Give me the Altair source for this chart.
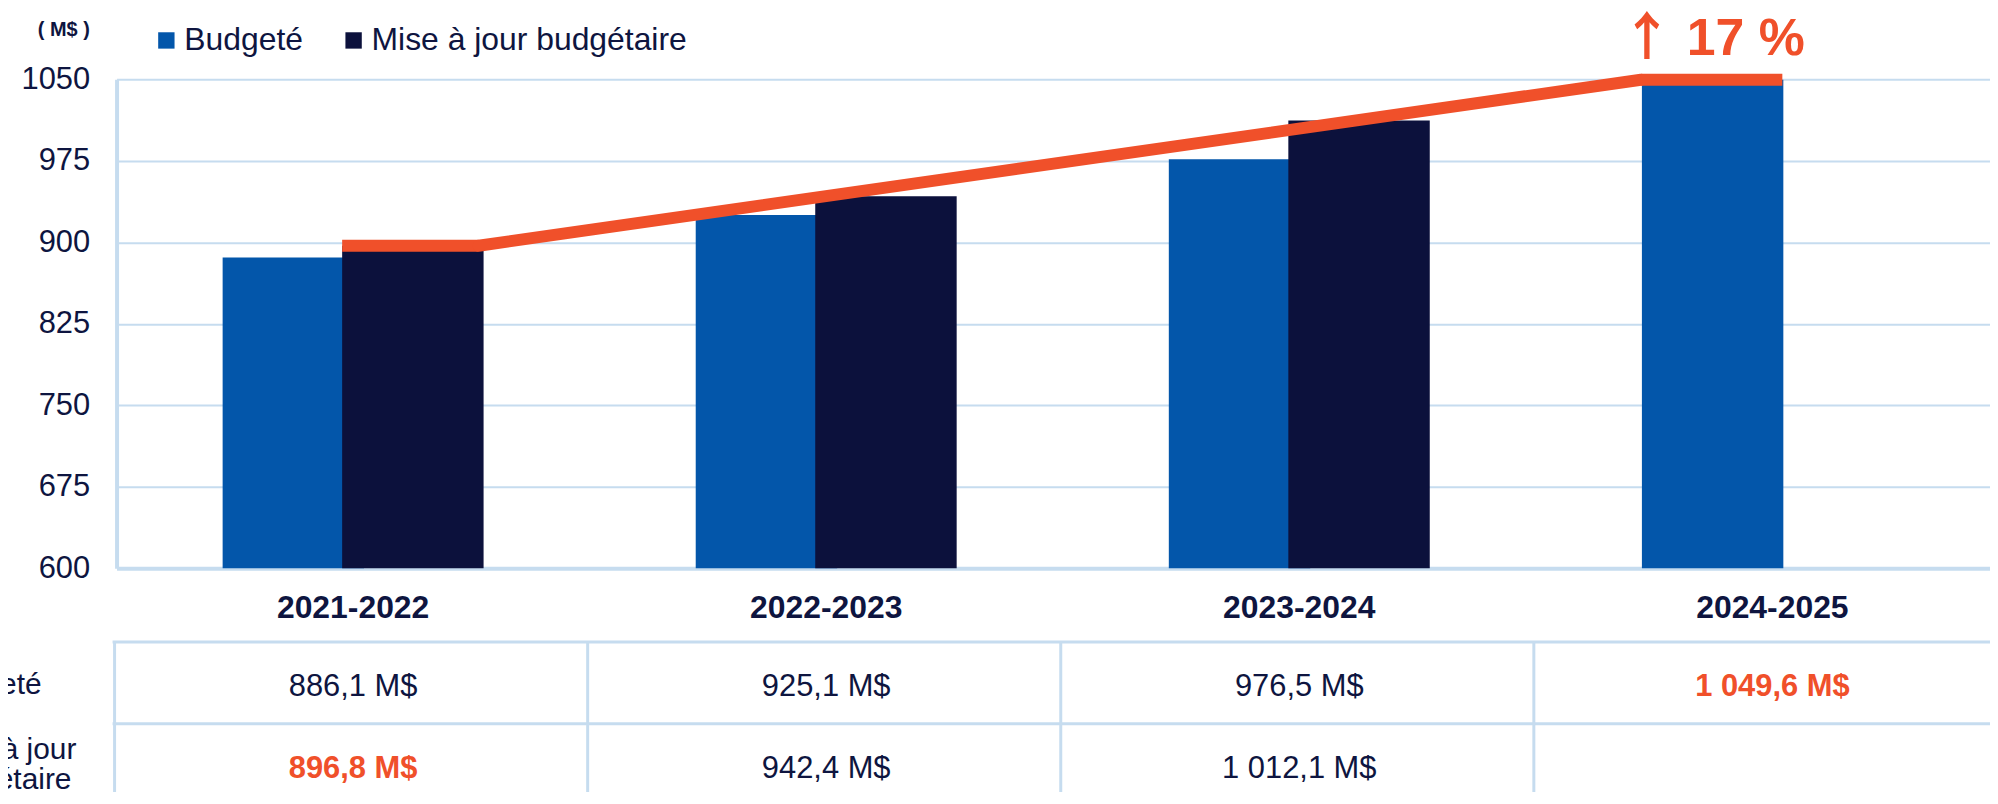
import altair as alt
import pandas as pd

# ---------------- data ----------------
categories = ["2021-2022", "2022-2023", "2023-2024", "2024-2025"]
budgete = [886.1, 925.1, 976.5, 1049.6]
mise_a_jour = [896.8, 942.4, 1012.1, None]
series_names = ["Budgeté", "Mise à jour budgétaire"]
row_labels = ["Budgeté", "Mise à jour", "budgétaire"]
y_ticks = [600, 675, 750, 825, 900, 975, 1050]
unit_label = "( M$ )"

# ---------------- style ----------------
NAVY = "#0E1540"
BLUE = "#0356AA"
DARK = "#0C113C"
ORANGE = "#F0502A"
GRID = "#C6DCEF"
FONT = "Liberation Sans"

W = 1900          # plot width (right part clipped by the page edge)
H = 491           # plot height
BAR_W = 142


def fr(v):
    return f"{v:,.1f}".replace(",", " ").replace(".", ",") + " M$"


change = round((budgete[-1] / mise_a_jour[0] - 1) * 100)
change_label = f"{change} %"

bud_df = pd.DataFrame({"cat": categories, "value": budgete, "series": series_names[0]})
maj_df = pd.DataFrame({"cat": categories, "value": mise_a_jour, "series": series_names[1]}).dropna()

rows = []
for i, c in enumerate(categories):
    rows.append({"cat": c, "row": 0, "txt": fr(budgete[i]), "hl": i == len(categories) - 1})
    if mise_a_jour[i] is not None:
        rows.append({"cat": c, "row": 1, "txt": fr(mise_a_jour[i]), "hl": i == 0})
table_df = pd.DataFrame(rows)
cat_df = pd.DataFrame({"cat": categories})

xscale = alt.Scale(domain=categories, paddingInner=0, paddingOuter=0)
yscale = alt.Scale(domain=[600, 1050], nice=False, zero=False)
cscale = alt.Scale(domain=series_names, range=[BLUE, DARK])

legend = alt.Legend(
    orient="none", legendX=34, legendY=-55, direction="horizontal", title=None,
    symbolType="square", symbolSize=270, symbolStrokeWidth=0, symbolOpacity=1,
    labelFont=FONT, labelFontSize=32, labelColor=NAVY, labelOffset=2,
    columnPadding=34, labelLimit=600,
)

X = alt.X("cat:N", scale=xscale, sort=categories,
          axis=alt.Axis(labels=False, ticks=False, title=None, grid=False,
                        domainColor=GRID, domainWidth=4))
Y = alt.Y("value:Q", scale=yscale,
          axis=alt.Axis(values=y_ticks, format="d", title=None, ticks=False, labelFont=FONT,
                        labelFontSize=31, labelColor=NAVY, labelPadding=27,
                        domainColor=GRID, domainWidth=4, gridColor=GRID, gridWidth=2,
                        labelOverlap=False))

bars_b = alt.Chart(bud_df).mark_bar(width=BAR_W, xOffset=-60).encode(
    x=X, y=Y, y2=alt.datum(600),
    color=alt.Color("series:N", scale=cscale, legend=legend),
)
bars_m = alt.Chart(maj_df).mark_bar(width=BAR_W, xOffset=60).encode(
    x=alt.X("cat:N", scale=xscale, sort=categories),
    y=alt.Y("value:Q", scale=yscale), y2=alt.datum(600),
    color=alt.Color("series:N", scale=cscale, legend=legend),
)

# trend line
seg1 = alt.Chart(pd.DataFrame({"cat": [categories[0]], "v": [mise_a_jour[0]]})).mark_rule(
    color=ORANGE, strokeWidth=12, strokeCap="butt", xOffset=-11, x2Offset=126
).encode(x=alt.X("cat:N", scale=xscale), x2="cat:N", y=alt.Y("v:Q", scale=yscale))
seg2 = alt.Chart(pd.DataFrame({"c1": [categories[0]], "c2": [categories[-1]],
                               "v1": [mise_a_jour[0]], "v2": [budgete[-1]]})).mark_rule(
    color=ORANGE, strokeWidth=12, strokeCap="round", xOffset=126, x2Offset=-132
).encode(x=alt.X("c1:N", scale=xscale), x2="c2:N",
         y=alt.Y("v1:Q", scale=yscale), y2="v2:Q")
seg3 = alt.Chart(pd.DataFrame({"cat": [categories[-1]], "v": [budgete[-1]]})).mark_rule(
    color=ORANGE, strokeWidth=12, strokeCap="butt", xOffset=-132, x2Offset=10
).encode(x=alt.X("cat:N", scale=xscale), x2="cat:N", y=alt.Y("v:Q", scale=yscale))

ann_df = pd.DataFrame({"cat": [categories[-1]], "v": [budgete[-1]]})
arrow = alt.Chart(ann_df).mark_text(
    text="↑", font="Noto Sans CJK JP", fontSize=52, fontWeight="bold", color=ORANGE,
    align="center", baseline="alphabetic", dx=-126, dy=-25
).encode(x=alt.X("cat:N", scale=xscale), y=alt.Y("v:Q", scale=yscale))
pct = alt.Chart(ann_df).mark_text(
    text=change_label, font=FONT, fontSize=52, fontWeight="bold", color=ORANGE,
    align="left", baseline="alphabetic", dx=-86, dy=-25
).encode(x=alt.X("cat:N", scale=xscale), y=alt.Y("v:Q", scale=yscale))

one = pd.DataFrame({"k": [0]})
unit = alt.Chart(one).mark_text(
    text=unit_label, font=FONT, fontSize=20, fontWeight="bold", color=NAVY,
    align="center", baseline="alphabetic"
).encode(x=alt.value(-53), y=alt.value(-43))

# category labels
cat_text = alt.Chart(cat_df).mark_text(
    font=FONT, fontSize=32, fontWeight="bold", color=NAVY, align="center", baseline="alphabetic"
).encode(x=alt.X("cat:N", scale=xscale), y=alt.value(541), text="cat:N")

# table grid
hline1 = alt.Chart(one).mark_rule(color=GRID, strokeWidth=3).encode(
    x=alt.value(-4), x2=alt.value(W), y=alt.value(565))
hline2 = alt.Chart(one).mark_rule(color=GRID, strokeWidth=3).encode(
    x=alt.value(-4), x2=alt.value(W), y=alt.value(647))
vlines = alt.Chart(cat_df).mark_rule(color=GRID, strokeWidth=3, xOffset=-2).encode(
    x=alt.X("cat:N", scale=xscale, bandPosition=0), y=alt.value(565), y2=alt.value(760))

row_y = [619, 702]
table_layers = []
for r in (0, 1):
    for hl in (False, True):
        sub = table_df[(table_df["row"] == r) & (table_df["hl"] == hl)]
        if len(sub) == 0:
            continue
        table_layers.append(
            alt.Chart(sub).mark_text(
                font=FONT, fontSize=31, fontWeight="bold" if hl else "normal",
                color=ORANGE if hl else NAVY, align="center", baseline="alphabetic"
            ).encode(x=alt.X("cat:N", scale=xscale), y=alt.value(row_y[r]), text="txt:N")
        )

label_layers = []
for txt, yy in zip(row_labels, [617, 682, 713]):
    label_layers.append(
        alt.Chart(one).mark_text(
            text=txt, font=FONT, fontSize=30, color=NAVY, align="left", baseline="alphabetic"
        ).encode(x=alt.value(-187), y=alt.value(yy))
    )

chart = alt.layer(
    bars_b, bars_m, seg1, seg2, seg3, arrow, pct, unit, cat_text,
    hline1, hline2, vlines, *table_layers, *label_layers
).properties(
    width=W, height=H,
    autosize=alt.AutoSizeParams(type="none"),
    padding={"left": 109, "top": 70, "right": -19, "bottom": 223},
    background="white",
).configure_view(stroke=None)

chart.save("out.html", embed_options={"renderer": "svg", "actions": False})
